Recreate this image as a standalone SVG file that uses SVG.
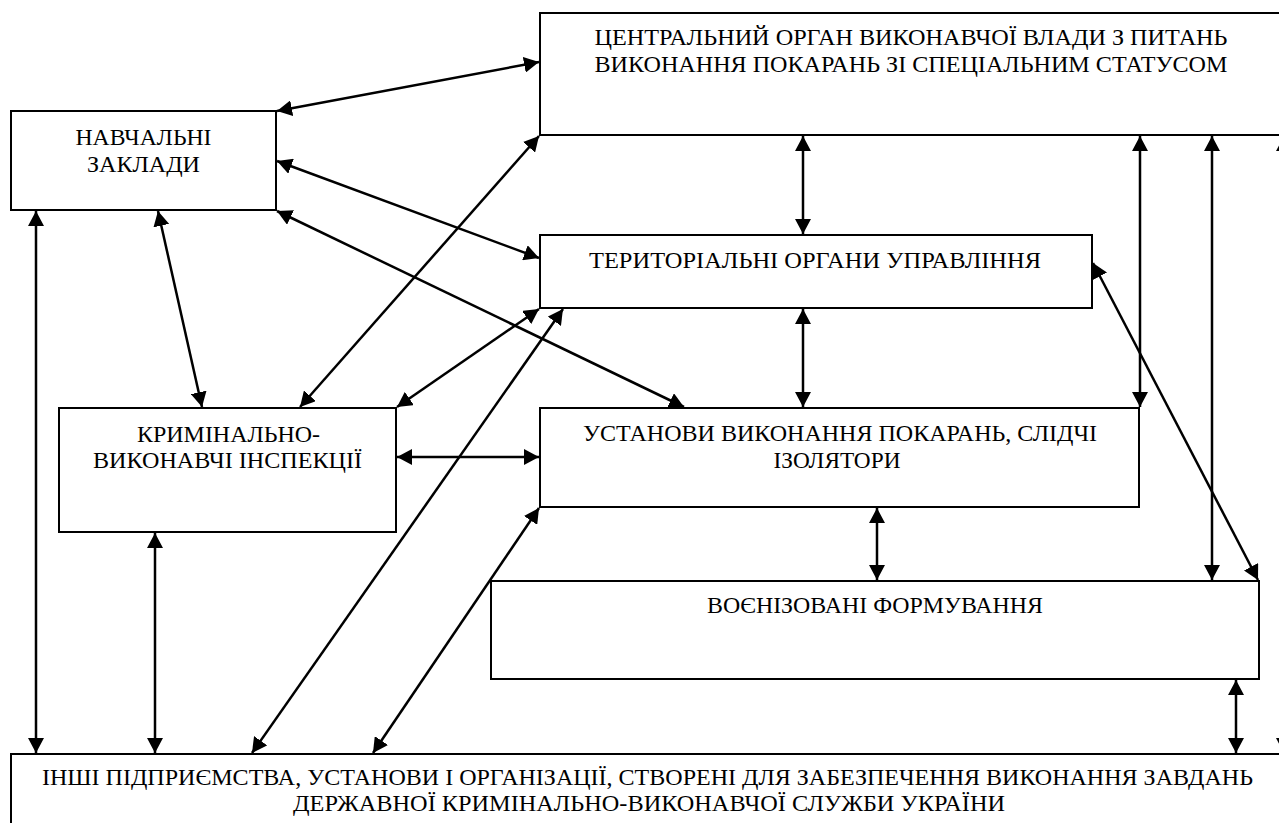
<svg xmlns="http://www.w3.org/2000/svg" width="1279" height="823" viewBox="0 0 1279 823">
<defs>
<marker id="ah" viewBox="0 0 15 16" markerUnits="userSpaceOnUse" markerWidth="15" markerHeight="16" refX="15" refY="8" orient="auto-start-reverse">
<path d="M0,0 L15,8 L0,16 z" fill="#000"/>
</marker>
<style>
.box{fill:#fff;stroke:#000;stroke-width:2}
.c line{stroke:#000;stroke-width:2.5;marker-start:url(#ah);marker-end:url(#ah)}
</style>
</defs>
<rect width="1279" height="823" fill="#fff"/>
<g font-family="'Liberation Serif', 'Times New Roman', 'DejaVu Serif', serif" font-size="23.5" fill="#000" text-anchor="middle">
<g id="central">
<rect class="box" x="540" y="13" width="760" height="122"/>
<text x="911" y="45" textLength="633" lengthAdjust="spacingAndGlyphs">ЦЕНТРАЛЬНИЙ ОРГАН ВИКОНАВЧОЇ ВЛАДИ З ПИТАНЬ</text>
<text x="911" y="72" textLength="633" lengthAdjust="spacingAndGlyphs">ВИКОНАННЯ ПОКАРАНЬ ЗІ СПЕЦІАЛЬНИМ СТАТУСОМ</text>
</g>
<g id="navchalni">
<rect class="box" x="11" y="111" width="265" height="99"/>
<text x="143.5" y="145" textLength="136" lengthAdjust="spacingAndGlyphs">НАВЧАЛЬНІ</text>
<text x="143.5" y="172" textLength="113" lengthAdjust="spacingAndGlyphs">ЗАКЛАДИ</text>
</g>
<g id="terytorialni">
<rect class="box" x="540" y="235" width="552" height="73"/>
<text x="815" y="268" textLength="452" lengthAdjust="spacingAndGlyphs">ТЕРИТОРІАЛЬНІ ОРГАНИ УПРАВЛІННЯ</text>
</g>
<g id="kvi">
<rect class="box" x="59" y="408" width="337" height="124"/>
<text x="228.5" y="442" textLength="183" lengthAdjust="spacingAndGlyphs">КРИМІНАЛЬНО-</text>
<text x="227.5" y="468" textLength="269" lengthAdjust="spacingAndGlyphs">ВИКОНАВЧІ ІНСПЕКЦІЇ</text>
</g>
<g id="ustanovy">
<rect class="box" x="540" y="408" width="599" height="99"/>
<text x="840" y="441" textLength="514" lengthAdjust="spacingAndGlyphs">УСТАНОВИ ВИКОНАННЯ ПОКАРАНЬ, СЛІДЧІ</text>
<text x="837" y="468" textLength="127" lengthAdjust="spacingAndGlyphs">ІЗОЛЯТОРИ</text>
</g>
<g id="voenizovani">
<rect class="box" x="491" y="581" width="768" height="98"/>
<text x="875" y="613" textLength="336" lengthAdjust="spacingAndGlyphs">ВОЄНІЗОВАНІ ФОРМУВАННЯ</text>
</g>
<g id="inshi">
<rect class="box" x="11" y="754" width="1300" height="100"/>
<text x="647.5" y="785" textLength="1211" lengthAdjust="spacingAndGlyphs">ІНШІ ПІДПРИЄМСТВА, УСТАНОВИ І ОРГАНІЗАЦІЇ, СТВОРЕНІ ДЛЯ ЗАБЕЗПЕЧЕННЯ ВИКОНАННЯ ЗАВДАНЬ</text>
<text x="649" y="811" textLength="712" lengthAdjust="spacingAndGlyphs">ДЕРЖАВНОЇ КРИМІНАЛЬНО-ВИКОНАВЧОЇ СЛУЖБИ УКРАЇНИ</text>
</g>
</g>
<g id="connectors" class="c">
<line x1="277" y1="111" x2="539" y2="62"/>
<line x1="277" y1="161" x2="539" y2="258"/>
<line x1="277" y1="211" x2="684" y2="407"/>
<line x1="36" y1="211" x2="36" y2="753"/>
<line x1="158" y1="211" x2="202" y2="407"/>
<line x1="539" y1="136" x2="300" y2="407"/>
<line x1="539" y1="309" x2="397" y2="407"/>
<line x1="563" y1="309" x2="252" y2="753"/>
<line x1="397" y1="457" x2="539" y2="457"/>
<line x1="539" y1="508" x2="373" y2="753"/>
<line x1="155" y1="533" x2="155" y2="753"/>
<line x1="803" y1="136" x2="803" y2="234"/>
<line x1="803" y1="309" x2="803" y2="407"/>
<line x1="1140" y1="136" x2="1140" y2="407"/>
<line x1="1212" y1="136" x2="1212" y2="580"/>
<line x1="1093" y1="263" x2="1258" y2="580"/>
<line x1="877" y1="508" x2="877" y2="580"/>
<line x1="1236" y1="680" x2="1236" y2="753"/>
<line x1="1284" y1="136" x2="1284" y2="753"/>
</g>
</svg>
